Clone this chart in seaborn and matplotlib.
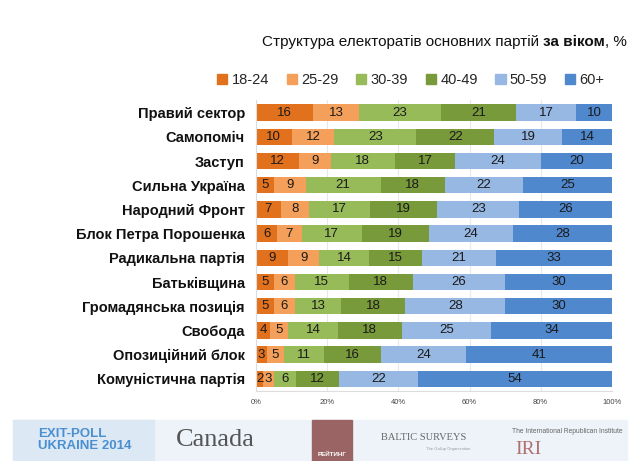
import numpy as np
import pandas as pd
import seaborn as sns
import matplotlib.pyplot as plt
from matplotlib.patches import Rectangle, Patch

# ------------------------------
# Дані
# ------------------------------
partii = ['Правий сектор', 'Самопоміч', 'Заступ', 'Сильна Україна', 'Народний Фронт',
          'Блок Петра Порошенка', 'Радикальна партія', 'Батьківщина',
          'Громадянська позиція', 'Свобода', 'Опозиційний блок', 'Комуністична партія']
vik = ['18-24', '25-29', '30-39', '40-49', '50-59', '60+']
v18_24 = [16, 10, 12, 5, 7, 6, 9, 5, 5, 4, 3, 2]
v25_29 = [13, 12, 9, 9, 8, 7, 9, 6, 6, 5, 5, 3]
v30_39 = [23, 23, 18, 21, 17, 17, 14, 15, 13, 14, 11, 6]
v40_49 = [21, 22, 17, 18, 19, 19, 15, 18, 18, 18, 16, 12]
v50_59 = [17, 19, 24, 22, 23, 24, 21, 26, 28, 25, 24, 22]
v60 = [10, 14, 20, 25, 26, 28, 33, 30, 30, 34, 41, 54]
kolory = ['#E2711D', '#F5A05A', '#98BB59', '#789A3B', '#96B8E2', '#5088CE']

znach = np.array([v18_24, v25_29, v30_39, v40_49, v50_59, v60], dtype=float)
znach_pct = znach / znach.sum(axis=0) * 100
kum = np.cumsum(znach_pct, axis=0)

sns.set_style('white')
plt.rcParams['font.family'] = ['Liberation Sans', 'DejaVu Sans']

fig = plt.figure(figsize=(6.4, 4.61), dpi=100)
ax = fig.add_axes([0.4, 0.152, 0.556, 0.63])

# ------------------------------
# Стовпчики (накопичені, від останнього до першого)
# ------------------------------
for i in range(len(vik) - 1, -1, -1):
    df = pd.DataFrame({'partiya': partii, 'x': kum[i]})
    sns.barplot(data=df, x='x', y='partiya', orient='h', color=kolory[i],
                saturation=1, width=0.68, ax=ax, zorder=2, linewidth=0)

for i in range(len(vik)):
    for j in range(len(partii)):
        seredyna = kum[i, j] - znach_pct[i, j] / 2
        ax.text(seredyna, j, f'{int(znach[i, j])}', ha='center', va='center',
                fontsize=9.5, color='#1a1a1a')

ax.set_xlim(0, 100)
ax.set_ylim(len(partii) - 0.5, -0.5)
ax.set_xticks([0, 20, 40, 60, 80, 100])
ax.set_xticklabels(['0%', '20%', '40%', '60%', '80%', '100%'], fontsize=5.5, color='#444444')
ax.set_xlabel('')
ax.set_ylabel('')
ax.set_yticks(range(len(partii)))
ax.set_yticklabels(partii, fontsize=10.5, fontweight='bold', color='#111111')
ax.tick_params(axis='y', length=4, color='#dddddd', pad=4)
ax.tick_params(axis='x', length=0, pad=6)
ax.grid(axis='x', color='#e8e8e8', linewidth=0.8, zorder=0)
for s in ['top', 'right']:
    ax.spines[s].set_visible(False)
ax.spines['left'].set_color('#dddddd')
ax.spines['bottom'].set_color('#dddddd')

# ------------------------------
# Заголовок (три частини одна за одною) і легенда
# ------------------------------
chastyny = [('Структура електоратів основних партій', 'normal', 4),
            ('за віком', 'bold', 0), (', %', 'normal', 0)]
renderer = fig.canvas.get_renderer()
x_px = 262
for tekst, vaga, vidstup in chastyny:
    t = fig.text(x_px / 640, 0.908, tekst, fontsize=11, ha='left', va='center',
                 fontweight=vaga, color='#111111')
    x_px += t.get_window_extent(renderer).width + vidstup

ruchky = [Patch(color=kolory[i], label=vik[i]) for i in range(len(vik))]
fig.legend(handles=ruchky, loc='center', bbox_to_anchor=(0.642, 0.826), ncol=6,
           frameon=False, fontsize=10.5, handlelength=0.7, handleheight=0.7,
           handletextpad=0.3, columnspacing=1.2)

# ------------------------------
# Нижній рядок з логотипами
# ------------------------------
fig.patches.append(Rectangle((0.02, 0.0), 0.96, 0.09, transform=fig.transFigure,
                             color='#EDF3F9', zorder=0))
fig.patches.append(Rectangle((0.02, 0.0), 0.22, 0.09, transform=fig.transFigure,
                             color='#DCE8F4', zorder=0))
fig.text(0.06, 0.045, 'EXIT-POLL\nUKRAINE 2014', fontsize=9.5, fontweight='bold',
         color='#4A8FD0', va='center', ha='left', linespacing=1.0)
fig.text(0.275, 0.045, 'Canada', fontsize=19, color='#555555', va='center',
         ha='left', family='Liberation Serif')
fig.patches.append(Rectangle((0.488, 0.0), 0.062, 0.09, transform=fig.transFigure,
                             color='#9B6464', zorder=1))
fig.text(0.519, 0.015, 'РЕЙТИНГ', fontsize=4.5, color='white', ha='center',
         va='center', fontweight='bold')
fig.text(0.595, 0.05, 'BALTIC SURVEYS', fontsize=7.5, color='#666666', ha='left',
         va='center', family='Liberation Serif')
fig.text(0.665, 0.025, 'The Gallup Organization', fontsize=3, color='#999999',
         ha='left', va='center')
fig.text(0.8, 0.065, 'The International Republican Institute', fontsize=4.8,
         color='#666666', ha='left', va='center')
fig.text(0.805, 0.025, 'IRI', fontsize=14, color='#B07070', ha='left', va='center',
         family='Liberation Serif')

fig.savefig('out.png', dpi=100)
